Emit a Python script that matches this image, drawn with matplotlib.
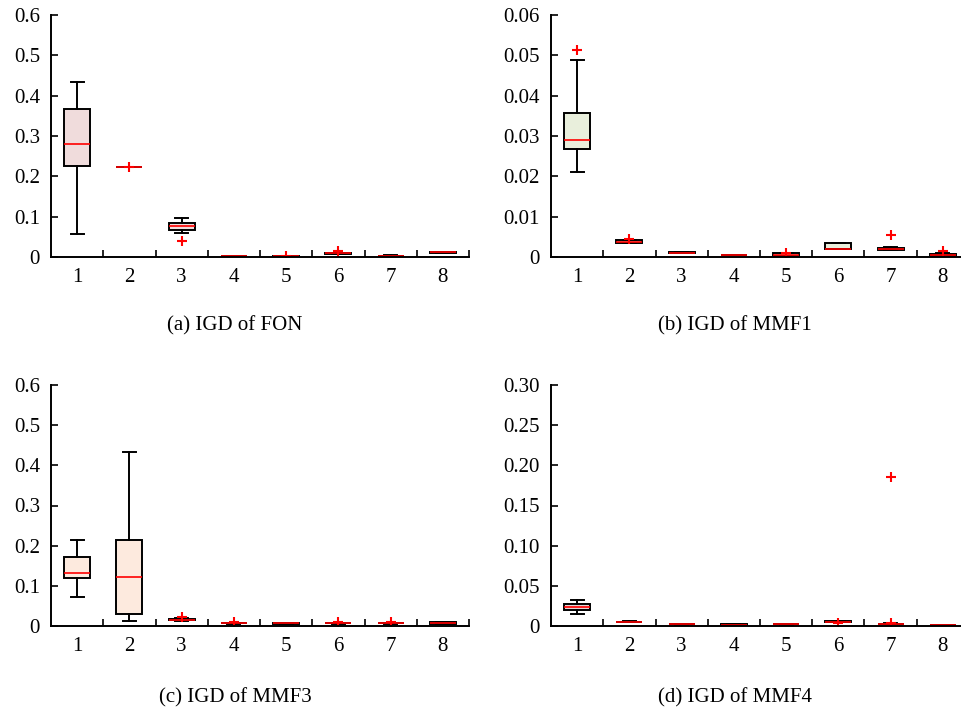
import numpy as np
import matplotlib.pyplot as plt
from matplotlib.ticker import FixedLocator

plt.rcParams['font.family'] = ['Liberation Serif', 'DejaVu Serif']
plt.rcParams['font.size'] = 15

positions = [1, 2, 3, 4, 5, 6, 7, 8]

# (a) IGD of FON: whisker low, q1, median, q3, whisker high
fon_lo = [0.056, 0.222, 0.059, 0.001, 0.001, 0.007, 0.002, 0.0095]
fon_q1 = [0.226, 0.222, 0.067, 0.002, 0.001, 0.008, 0.002, 0.0095]
fon_med = [0.279, 0.223, 0.078, 0.002, 0.002, 0.009, 0.003, 0.0115]
fon_q3 = [0.366, 0.224, 0.085, 0.003, 0.003, 0.010, 0.003, 0.0115]
fon_hi = [0.435, 0.224, 0.096, 0.003, 0.003, 0.011, 0.004, 0.0115]
fon_fliers = [[], [0.223], [0.040], [], [0.002], [0.015], [], []]

# (b) IGD of MMF1
mmf1_lo = [0.0211, 0.0034, 0.0010, 0.0004, 0.0003, 0.0021, 0.0017, 0.0002]
mmf1_q1 = [0.0267, 0.0035, 0.0010, 0.0004, 0.0003, 0.0021, 0.0018, 0.0002]
mmf1_med = [0.0291, 0.0038, 0.0011, 0.0005, 0.0005, 0.0021, 0.0020, 0.0004]
mmf1_q3 = [0.0358, 0.0042, 0.0012, 0.0006, 0.0009, 0.0034, 0.0023, 0.0008]
mmf1_hi = [0.0489, 0.0043, 0.0012, 0.0006, 0.0009, 0.0034, 0.0024, 0.0009]
mmf1_fliers = [[0.0513], [0.0045], [], [], [0.0011], [], [0.0055], [0.0016]]

# (c) IGD of MMF3
mmf3_lo = [0.072, 0.013, 0.013, 0.006, 0.006, 0.006, 0.006, 0.005]
mmf3_q1 = [0.120, 0.029, 0.014, 0.007, 0.006, 0.007, 0.007, 0.006]
mmf3_med = [0.131, 0.121, 0.016, 0.0075, 0.007, 0.0075, 0.0075, 0.007]
mmf3_q3 = [0.173, 0.214, 0.018, 0.008, 0.008, 0.008, 0.008, 0.009]
mmf3_hi = [0.214, 0.433, 0.019, 0.008, 0.008, 0.008, 0.008, 0.009]
mmf3_fliers = [[], [], [0.022], [0.009], [], [0.009], [0.009], []]

# (d) IGD of MMF4
mmf4_lo = [0.0149, 0.0050, 0.0018, 0.0015, 0.0018, 0.0052, 0.0020, 0.0010]
mmf4_q1 = [0.0203, 0.0052, 0.0020, 0.0016, 0.0020, 0.0053, 0.0022, 0.0011]
mmf4_med = [0.0237, 0.0054, 0.0023, 0.0018, 0.0023, 0.0055, 0.0026, 0.0013]
mmf4_q3 = [0.0274, 0.0056, 0.0025, 0.0020, 0.0027, 0.0057, 0.0030, 0.0015]
mmf4_hi = [0.0328, 0.0057, 0.0026, 0.0021, 0.0028, 0.0058, 0.0032, 0.0016]
mmf4_fliers = [[], [], [], [], [], [0.004], [0.186, 0.0037], []]

panels = [
    ("(a) IGD of FON", fon_lo, fon_q1, fon_med, fon_q3, fon_hi, fon_fliers,
     [0, 0.1, 0.2, 0.3, 0.4, 0.5, 0.6], ["0", "0.1", "0.2", "0.3", "0.4", "0.5", "0.6"], '#f0dcdc'),
    ("(b) IGD of MMF1", mmf1_lo, mmf1_q1, mmf1_med, mmf1_q3, mmf1_hi, mmf1_fliers,
     [0, 0.01, 0.02, 0.03, 0.04, 0.05, 0.06], ["0", "0.01", "0.02", "0.03", "0.04", "0.05", "0.06"], '#e9efdc'),
    ("(c) IGD of MMF3", mmf3_lo, mmf3_q1, mmf3_med, mmf3_q3, mmf3_hi, mmf3_fliers,
     [0, 0.1, 0.2, 0.3, 0.4, 0.5, 0.6], ["0", "0.1", "0.2", "0.3", "0.4", "0.5", "0.6"], '#fdeade'),
    ("(d) IGD of MMF4", mmf4_lo, mmf4_q1, mmf4_med, mmf4_q3, mmf4_hi, mmf4_fliers,
     [0, 0.05, 0.10, 0.15, 0.20, 0.25, 0.30], ["0", "0.05", "0.10", "0.15", "0.20", "0.25", "0.30"], '#e2d4d4'),
]

# axes rectangles in figure fractions (right column runs past the edge, as in the original)
rects = [
    [51 / 961, 1 - 257 / 720, 418 / 961, 242 / 720],
    [551 / 961, 1 - 257 / 720, 418 / 961, 242 / 720],
    [51 / 961, 1 - 626 / 720, 418 / 961, 241 / 720],
    [551 / 961, 1 - 626 / 720, 418 / 961, 241 / 720],
]
caption_pos = [(235 / 961, 1 - 326 / 720), (735 / 961, 1 - 326 / 720),
               (235 / 961, 1 - 698 / 720), (735 / 961, 1 - 698 / 720)]

fig = plt.figure(figsize=(9.61, 7.2), dpi=100)

for i in range(4):
    title, lo, q1, med, q3, hi, fliers, yt, ytl, fill = panels[i]
    ax = fig.add_axes(rects[i])

    stats = []
    for j in range(len(positions)):
        stats.append({'whislo': lo[j], 'q1': q1[j], 'med': med[j], 'q3': q3[j],
                      'whishi': hi[j], 'fliers': fliers[j]})

    ax.bxp(stats, positions=positions, widths=0.5, patch_artist=True,
           boxprops=dict(facecolor=fill, edgecolor='black', linewidth=1.4),
           medianprops=dict(color='red', linewidth=1.2),
           whiskerprops=dict(color='black', linewidth=1.4),
           capprops=dict(color='black', linewidth=1.4),
           flierprops=dict(marker='+', markeredgecolor='red', markersize=7, markeredgewidth=1.5))

    ax.set_xlim(0.5, 8.5)
    ax.set_ylim(yt[0], yt[-1])
    ax.set_yticks(yt)
    ax.set_yticklabels(ytl)
    ax.set_xticks(positions)
    ax.set_xticklabels([str(p) for p in positions])
    ax.xaxis.set_minor_locator(FixedLocator([1.5, 2.5, 3.5, 4.5, 5.5, 6.5, 7.5, 8.5]))
    ax.tick_params(axis='x', which='major', length=0, pad=8)
    ax.tick_params(axis='x', which='minor', direction='in', length=5, width=1.2)
    ax.tick_params(axis='y', direction='in', length=5, width=1.2, pad=8)

    ax.spines['top'].set_visible(False)
    ax.spines['right'].set_visible(False)
    ax.spines['left'].set_linewidth(1.4)
    ax.spines['bottom'].set_linewidth(1.4)

    fig.text(caption_pos[i][0], caption_pos[i][1], title, ha='center', va='center', fontsize=15)

fig.savefig("out.png", dpi=100)
